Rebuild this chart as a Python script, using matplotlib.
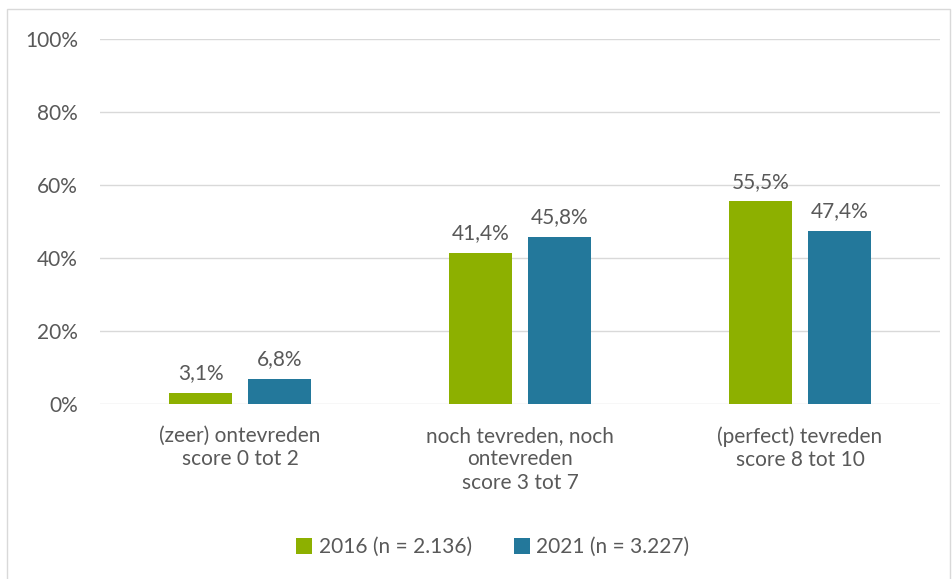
import matplotlib
matplotlib.use("Agg")
import matplotlib.pyplot as plt
from matplotlib.patches import Rectangle
import numpy as np

# data
categories = ["(zeer) ontevreden\nscore 0 tot 2",
              "noch tevreden, noch\nontevreden\nscore 3 tot 7",
              "(perfect) tevreden\nscore 8 tot 10"]
vals_2016 = [3.1, 41.4, 55.5]
vals_2021 = [6.8, 45.8, 47.4]
series_names = ["2016 (n = 2.136)", "2021 (n = 3.227)"]
yticks = [0, 20, 40, 60, 80, 100]

green = "#8DB000"
blue = "#23789B"
txt = "#595959"
fs = 15

plt.rcParams['font.family'] = ['Lato', 'DejaVu Sans']

fig = plt.figure(figsize=(9.53, 5.79), dpi=100)
ax = fig.add_axes([100/953, 1-404/579, 840/953, 365/579])

# outer chart border
fig.patches.append(Rectangle((7/953, -0.05), 943/953, 1-9/579+0.05,
                             transform=fig.transFigure, fill=False,
                             edgecolor="#D9D9D9", linewidth=1.0))

x = np.arange(len(categories))
w = 0.222
off = 0.141
b1 = ax.bar(x - off, vals_2016, w, color=green, label=series_names[0], zorder=3)
b2 = ax.bar(x + off, vals_2021, w, color=blue, label=series_names[1], zorder=3)

for bars, vals in [(b1, vals_2016), (b2, vals_2021)]:
    for r, v in zip(bars, vals):
        ax.annotate(f"{v:.1f}%".replace(".", ","),
                    (r.get_x() + r.get_width()/2, v),
                    xytext=(0, 7), textcoords="offset points",
                    ha="center", va="bottom", fontsize=fs, color=txt)

ax.set_xlim(-0.5, 2.5)
ax.set_ylim(0, 100)
ax.set_yticks(yticks)
ax.set_yticklabels([f"{t}%" for t in yticks])
ax.set_xticks(x)
ax.set_xticklabels(categories)
ax.tick_params(axis="both", length=0, labelsize=fs, colors=txt)
ax.tick_params(axis="y", pad=16)
ax.tick_params(axis="x", pad=16)
ax.yaxis.grid(True, color="#D9D9D9", linewidth=1.0, zorder=0)
for s in ax.spines.values():
    s.set_visible(False)

leg = fig.legend(handles=[b1, b2], loc="center", bbox_to_anchor=(0.517, 1-547/579),
                 ncol=2, frameon=False, fontsize=fs, handlelength=0.8,
                 handleheight=0.8, handletextpad=0.3, columnspacing=2.0)
for t in leg.get_texts():
    t.set_color(txt)

fig.savefig("out.png", dpi=100)
